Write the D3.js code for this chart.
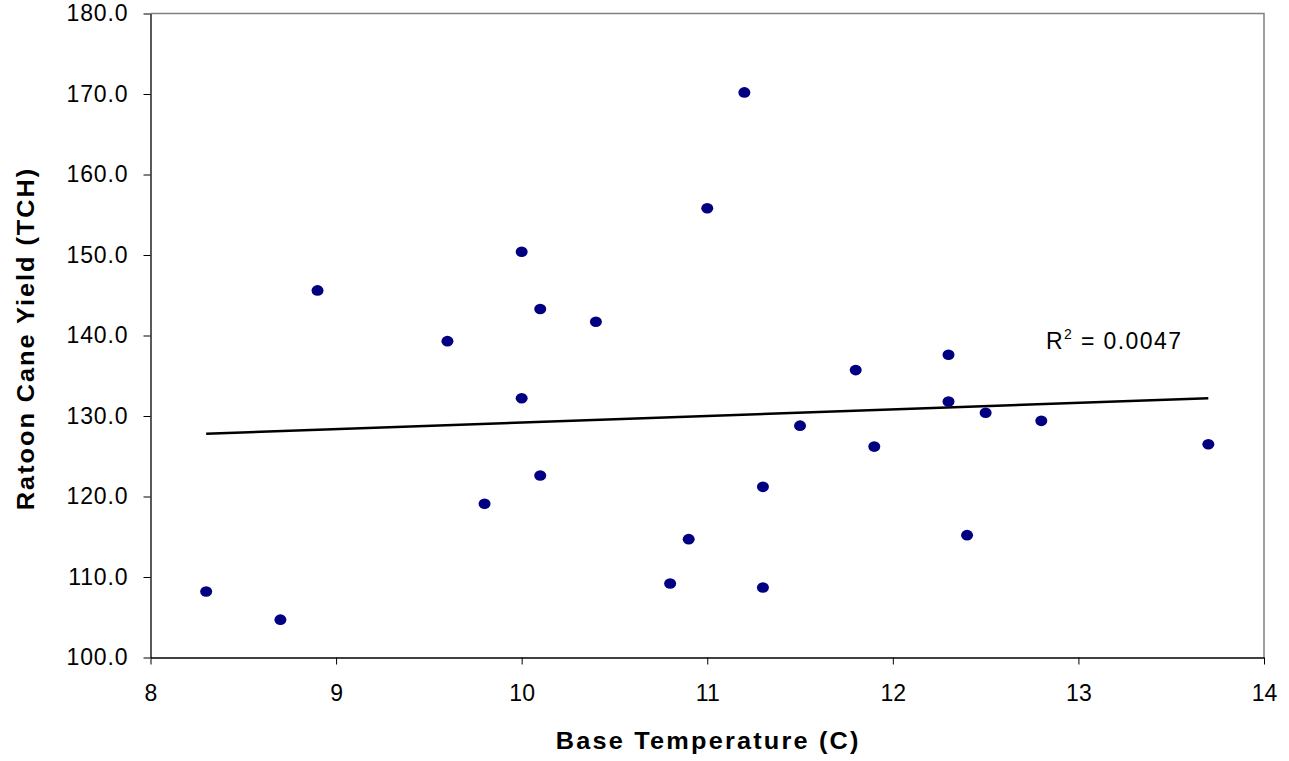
<!DOCTYPE html>
<html>
<head>
<meta charset="utf-8">
<script src="https://cdn.jsdelivr.net/npm/d3@7"></script>
<style>
  body { margin: 0; background: #fff; }
  text { font-family: Arial, "Liberation Sans", sans-serif; }
</style>
</head>
<body>
<div class="chart"></div>
<script>
// base temperature (C) and ratoon cane yield (TCH)
const baseTemp = [8.3, 8.7, 8.9, 9.6, 9.8, 10.0, 10.0, 10.1, 10.1, 10.4, 10.8, 10.9, 11.0,
                  11.2, 11.3, 11.3, 11.5, 11.8, 11.9, 12.3, 12.3, 12.4, 12.5, 12.8, 13.7];
const caneYield = [108.2, 104.7, 145.6, 139.3, 119.1, 150.4, 132.2, 143.3, 122.6, 141.7, 109.2, 114.7, 155.8,
                   170.2, 121.2, 108.7, 128.8, 135.7, 126.2, 137.6, 131.8, 115.2, 130.4, 129.4, 126.5];
// linear trend line end points
const trendX = [8.3, 13.7];
const trendY = [127.8, 132.2];
const xTicks = [8, 9, 10, 11, 12, 13, 14];
const yTicks = [100, 110, 120, 130, 140, 150, 160, 170, 180];
const r2Label = '0.0047';

const width = 1289;
const height = 761;
const margin = {left: 150.5, right: 25, top: 13.5, bottom: 103.5};

const svg = d3.select('.chart')
    .append('svg')
    .attr('width', width)
    .attr('height', height);

const x = d3.scaleLinear().domain([8, 14]).range([margin.left, width - margin.right]);
const y = d3.scaleLinear().domain([100, 180]).range([height - margin.bottom, margin.top]);

// gray frame on top and right
svg.append('path')
    .attr('d', `M${x(8)},${y(180)}H${x(14)}V${y(100)}`)
    .attr('fill', 'none')
    .attr('stroke', '#808080')
    .attr('stroke-width', 1.5);

// x axis
const xAxis = svg.append('g')
    .attr('transform', `translate(0,${y(100)})`)
    .call(d3.axisBottom(x).tickValues(xTicks).tickSize(7).tickSizeOuter(0).tickPadding(20).tickFormat(d3.format('d')));
xAxis.select('.domain').attr('stroke', '#000').attr('stroke-width', 1.3);
xAxis.selectAll('.tick line').attr('stroke', '#000');
xAxis.selectAll('text').attr('font-size', '23px').attr('fill', '#000');

// y axis
const yAxis = svg.append('g')
    .attr('transform', `translate(${x(8)},0)`)
    .call(d3.axisLeft(y).tickValues(yTicks).tickSize(7).tickSizeOuter(0).tickPadding(15).tickFormat(d3.format('.1f')));
yAxis.select('.domain').attr('stroke', '#000').attr('stroke-width', 1.3);
yAxis.selectAll('.tick line').attr('stroke', '#000');
yAxis.selectAll('text').attr('font-size', '23px').attr('fill', '#000').attr('letter-spacing', '0.9px');

// trend line
svg.append('line')
    .attr('x1', x(trendX[0]))
    .attr('y1', y(trendY[0]))
    .attr('x2', x(trendX[1]))
    .attr('y2', y(trendY[1]))
    .attr('stroke', '#000')
    .attr('stroke-width', 2.5);

// points
svg.selectAll('.dot')
    .data(baseTemp)
    .enter()
    .append('ellipse')
    .attr('class', 'dot')
    .attr('cx', d => x(d))
    .attr('cy', (d, i) => y(caneYield[i]))
    .attr('rx', 6)
    .attr('ry', 5.3)
    .attr('fill', '#000080');

// R squared label
const r2 = svg.append('text')
    .attr('x', 1046)
    .attr('y', 349)
    .attr('font-size', '23px')
    .attr('letter-spacing', '1.4px')
    .attr('fill', '#000');
r2.append('tspan').text('R');
r2.append('tspan').text('2').attr('font-size', '14px').attr('dy', -10);
r2.append('tspan').text(' = ' + r2Label).attr('dy', 10);

// axis titles (the original font is a bit wide, so stretch it)
svg.append('text')
    .text('Base Temperature (C)')
    .attr('transform', `translate(${x(11) + 1},749) scale(1.1,1)`)
    .attr('text-anchor', 'middle')
    .attr('font-size', '23px')
    .attr('font-weight', 'bold')
    .attr('letter-spacing', '2px');

svg.append('text')
    .text('Ratoon Cane Yield (TCH)')
    .attr('transform', `translate(34,${y(140) + 3}) rotate(-90) scale(1.1,1)`)
    .attr('text-anchor', 'middle')
    .attr('font-size', '23px')
    .attr('font-weight', 'bold')
    .attr('letter-spacing', '1.8px');
</script>
</body>
</html>
